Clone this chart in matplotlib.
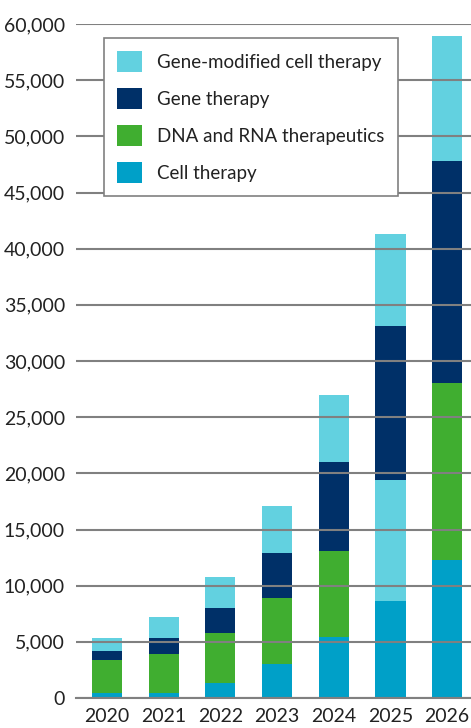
import matplotlib
matplotlib.use("Agg")
import matplotlib.pyplot as plt
import numpy as np
from matplotlib.patches import Patch

years = ["2020", "2021", "2022", "2023", "2024", "2025", "2026"]
cell_therapy = [450, 450, 1300, 3000, 5400, 8600, 12300]
dna_rna = [2950, 3500, 4500, 5900, 7700, 10800, 15700]
gene_therapy = [800, 1400, 2250, 4000, 7900, 13700, 19800]
gene_modified = [1150, 1900, 2750, 4150, 6000, 8200, 11100]

series_names = ["Cell therapy", "DNA and RNA therapeutics", "Gene therapy",
                "Gene-modified cell therapy"]
colors = ["#00A0C8", "#40AE30", "#003068", "#62D1E0"]

plt.rcParams['font.family'] = ['Lato', 'DejaVu Sans']

fig = plt.figure(figsize=(4.71, 7.28), dpi=100)
ax = fig.add_axes([76 / 471, 1 - 698 / 728, 395 / 471, 674 / 728])

x = np.arange(len(years))
bottom = np.zeros(len(years))
for name, vals, col in zip(series_names,
                           [cell_therapy, dna_rna, gene_therapy, gene_modified],
                           colors):
    bar_colors = [col] * len(years)
    if name == "DNA and RNA therapeutics":
        # the source chart shows this segment in light cyan for 2025
        bar_colors[5] = colors[3]
    ax.bar(x, vals, width=0.53, bottom=bottom, color=bar_colors, zorder=1)
    bottom += np.array(vals)

ax.set_ylim(0, 60000)
ax.set_xlim(-0.547, 6.42)
ax.set_yticks(np.arange(0, 60001, 5000))
ax.set_yticklabels([f"{v:,}" for v in range(0, 60001, 5000)])
ax.set_xticks(x)
ax.set_xticklabels(years)
ax.tick_params(axis='both', length=0, labelsize=14, colors="#222222")
ax.tick_params(axis='y', pad=8)
ax.tick_params(axis='x', pad=7)

ax.grid(axis='y', color="#808080", linewidth=1.5, zorder=2)
ax.set_axisbelow(False)
for s in ["left", "right", "top"]:
    ax.spines[s].set_visible(False)
ax.spines["bottom"].set_color("#808080")
ax.spines["bottom"].set_linewidth(1.5)

handles = [Patch(facecolor=c, label=n) for n, c in zip(series_names, colors)]
handles = handles[::-1]
leg = ax.legend(handles=handles, loc="upper left", bbox_to_anchor=(0.071, 0.979),
                fontsize=13.5, frameon=True, fancybox=False, edgecolor="#808080",
                framealpha=1, handlelength=1.35, handleheight=1.35,
                handletextpad=0.8, labelspacing=0.85, borderpad=0.7,
                borderaxespad=0)
leg.get_frame().set_linewidth(1.2)
leg.set_zorder(5)
for t in leg.get_texts():
    t.set_color("#222222")

fig.savefig("out.png", dpi=100)
